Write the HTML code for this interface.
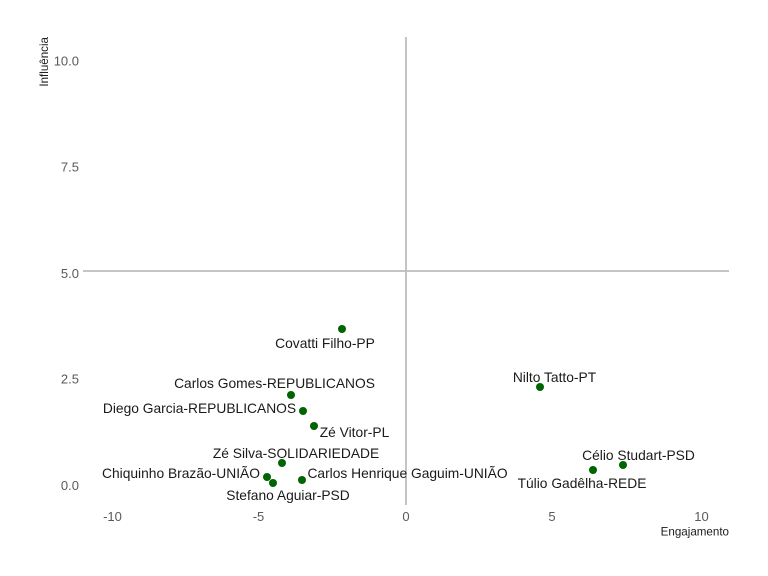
<!DOCTYPE html>
<html>
<head>
<meta charset="utf-8">
<style>
html,body{margin:0;padding:0;background:#fff;}
svg{display:block;}
text{font-family:"Liberation Sans",Arial,sans-serif;}
.lab{font-size:13.8px;fill:#1a1a1a;text-anchor:middle;}
.tick{font-size:13px;fill:#5a5a5a;}
.ttl{font-size:11.6px;fill:#1a1a1a;}
</style>
</head>
<body>
<svg width="768" height="576" viewBox="0 0 768 576" xmlns="http://www.w3.org/2000/svg">
<rect width="768" height="576" fill="#fff"/>
<!-- reference lines -->
<line x1="83" y1="271" x2="729" y2="271" stroke="#bdbdbd" stroke-width="1.8"/>
<line x1="406" y1="37" x2="406" y2="505" stroke="#bdbdbd" stroke-width="1.8"/>

<!-- y tick labels -->
<text class="tick" x="79" y="65.7" text-anchor="end">10.0</text>
<text class="tick" x="79" y="171.7" text-anchor="end">7.5</text>
<text class="tick" x="79" y="278" text-anchor="end">5.0</text>
<text class="tick" x="79" y="383.7" text-anchor="end">2.5</text>
<text class="tick" x="79" y="490" text-anchor="end">0.0</text>

<!-- x tick labels -->
<text class="tick" x="112.5" y="521" text-anchor="middle">-10</text>
<text class="tick" x="258.5" y="521" text-anchor="middle">-5</text>
<text class="tick" x="406" y="521" text-anchor="middle">0</text>
<text class="tick" x="552" y="521" text-anchor="middle">5</text>
<text class="tick" x="701.5" y="521" text-anchor="middle">10</text>

<!-- axis titles -->
<text class="ttl" x="729" y="535.5" text-anchor="end">Engajamento</text>
<text class="ttl" x="48" y="37" text-anchor="end" transform="rotate(-90 48 37)">Influência</text>

<!-- points -->
<g fill="#006400">
<circle cx="342" cy="329" r="4"/>
<circle cx="291" cy="395" r="4"/>
<circle cx="303" cy="411" r="4"/>
<circle cx="314" cy="426" r="4"/>
<circle cx="282" cy="463" r="4"/>
<circle cx="267" cy="477" r="4"/>
<circle cx="273" cy="483" r="4"/>
<circle cx="302" cy="480" r="4"/>
<circle cx="540" cy="387" r="4"/>
<circle cx="623" cy="465" r="4"/>
<circle cx="593" cy="470" r="4"/>
</g>

<!-- labels -->
<text class="lab" x="325" y="348">Covatti Filho-PP</text>
<text class="lab" x="274.5" y="388">Carlos Gomes-REPUBLICANOS</text>
<text class="lab" x="199.5" y="413">Diego Garcia-REPUBLICANOS</text>
<text class="lab" x="354.5" y="437">Zé Vitor-PL</text>
<text class="lab" x="296" y="458">Zé Silva-SOLIDARIEDADE</text>
<text class="lab" x="181" y="478">Chiquinho Brazão-UNIÃO</text>
<text class="lab" x="288" y="500">Stefano Aguiar-PSD</text>
<text class="lab" x="407.5" y="478">Carlos Henrique Gaguim-UNIÃO</text>
<text class="lab" x="554.5" y="382">Nilto Tatto-PT</text>
<text class="lab" x="638.5" y="460">Célio Studart-PSD</text>
<text class="lab" x="582" y="488">Túlio Gadêlha-REDE</text>
</svg>
</body>
</html>
